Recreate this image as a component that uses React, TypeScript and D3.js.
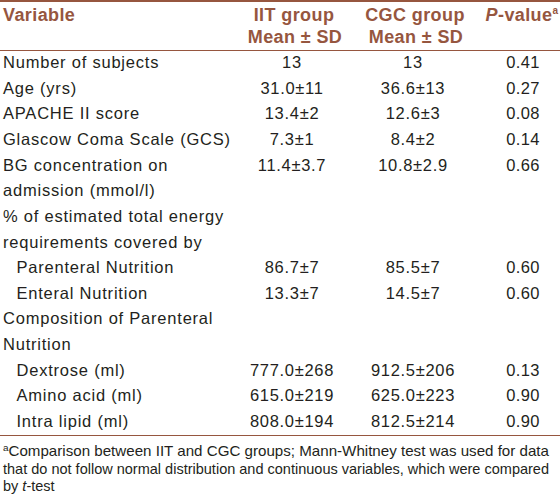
import React, { useEffect } from "react";
import * as d3 from "d3";

const variableLabels: string[][] = [
  ["Number of subjects"],
  ["Age (yrs)"],
  ["APACHE II score"],
  ["Glascow Coma Scale (GCS)"],
  ["BG concentration on", "admission (mmol/l)"],
  ["% of estimated total energy", "requirements covered by"],
  ["Parenteral Nutrition"],
  ["Enteral Nutrition"],
  ["Composition of Parenteral", "Nutrition"],
  ["Dextrose (ml)"],
  ["Amino acid (ml)"],
  ["Intra lipid (ml)"],
];
const indentLevel: number[] = [0, 0, 0, 0, 0, 0, 1, 1, 0, 1, 1, 1];
const iitValues: string[] = ["13", "31.0±11", "13.4±2", "7.3±1", "11.4±3.7", "", "86.7±7", "13.3±7", "", "777.0±268", "615.0±219", "808.0±194"];
const cgcValues: string[] = ["13", "36.6±13", "12.6±3", "8.4±2", "10.8±2.9", "", "85.5±7", "14.5±7", "", "912.5±206", "625.0±223", "812.5±214"];
const pValues: string[] = ["0.41", "0.27", "0.08", "0.14", "0.66", "", "0.60", "0.60", "", "0.13", "0.90", "0.90"];
const columnKeys: string[] = ["iit", "cgc", "p"];
const headerLine1: string[] = ["IIT group", "CGC group"];
const headerLine2: string[] = ["Mean ± SD", "Mean ± SD"];
const footnoteLines: string[] = [
  "Comparison between IIT and CGC groups; Mann-Whitney test was used for data",
  "that do not follow normal distribution and continuous variables, which were compared",
];

const W = 560;
const H = 495;
const BROWN = "#96563f";
const TEXT = "#231f20";
const FONT = "'Liberation Sans', Arial, Helvetica, sans-serif";

export default function App() {
  useEffect(() => {
    document.body.style.margin = "0";
  }, []);

  const rowStart: number[] = [];
  let acc = 0;
  variableLabels.forEach((l) => {
    rowStart.push(acc);
    acc += l.length;
  });
  const totalLines = acc;
  const y = d3.scaleLinear().domain([0, totalLines - 1]).range([68, 427]);
  const x = d3.scaleOrdinal<string, number>().domain(columnKeys).range([292, 413, 523]);
  const indent = d3.scaleLinear().domain([0, 1]).range([3, 16.5]);

  const bodyStyle = { fontFamily: FONT, fontSize: 16.5, fill: TEXT, letterSpacing: 0.78 } as any;
  const valStyle = { fontFamily: FONT, fontSize: 16.5, fill: TEXT, letterSpacing: 0.7 } as any;
  const pStyle = { fontFamily: FONT, fontSize: 16.5, fill: TEXT, letterSpacing: 0.4 } as any;
  const headStyle = { fontFamily: FONT, fontSize: 18, fontWeight: "bold", fill: BROWN, letterSpacing: 0.4 } as any;
  const footStyle = { fontFamily: FONT, fontSize: 14.5, fill: TEXT } as any;

  return (
    <svg width={W} height={H} style={{ display: "block", background: "#fff" }}>
      <rect x={0} y={0} width={W} height={H} fill="#fff" />
      <line x1={0} x2={W} y1={1} y2={1} stroke={BROWN} strokeWidth={2} />
      <text x={3} y={21} style={headStyle}>Variable</text>
      {headerLine1.map((t, i) => (
        <text key={"h1" + i} x={x(columnKeys[i]) + 2} y={21} textAnchor="middle" style={headStyle}>{t}</text>
      ))}
      {headerLine2.map((t, i) => (
        <text key={"h2" + i} x={x(columnKeys[i]) + 3} y={43} textAnchor="middle" style={headStyle}>{t}</text>
      ))}
      <text x={x("p") - 1} y={21} textAnchor="middle" style={headStyle}>
        <tspan fontStyle="italic">P</tspan>-value<tspan fontSize={10} dy={-7}>a</tspan>
      </text>
      <line x1={0} x2={W} y1={50.5} y2={50.5} stroke={BROWN} strokeWidth={1} />

      {variableLabels.map((lines, r) =>
        lines.map((t, k) => (
          <text key={"v" + r + "-" + k} x={indent(indentLevel[r])} y={y(rowStart[r] + k)} style={bodyStyle}>{t}</text>
        ))
      )}
      {[iitValues, cgcValues, pValues].map((vals, c) =>
        vals.map((t, r) => (
          <text key={"c" + c + "-" + r} x={x(columnKeys[c])} y={y(rowStart[r])} textAnchor="middle" style={c === 2 ? pStyle : valStyle}>{t}</text>
        ))
      )}

      <line x1={0} x2={W} y1={435.5} y2={435.5} stroke={BROWN} strokeWidth={1} />
      {footnoteLines.map((t, i) => (
        <text key={"f" + i} x={3} y={456 + i * 17.5} textLength={546} lengthAdjust="spacingAndGlyphs" style={footStyle}>
          {i === 0 ? <><tspan fontSize={9.5} dy={-5}>a</tspan><tspan dy={5}>{t}</tspan></> : t}
        </text>
      ))}
      <text x={3} y={491} style={footStyle}>
        by <tspan fontStyle="italic">t</tspan>-test
      </text>
    </svg>
  );
}
